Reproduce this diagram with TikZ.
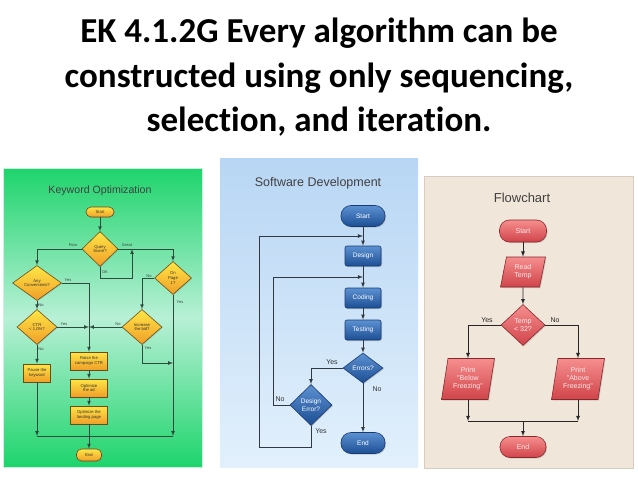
\documentclass[tikz,border=0pt]{standalone}
\usepackage{fontspec}
\setmainfont{Carlito}[Ligatures=NoCommon]
\newfontfamily\panelfont{Liberation Sans}
\usetikzlibrary{arrows}
\usetikzlibrary{shapes.geometric, shadows}
\definecolor{kwgreen}{RGB}{30,212,108}
\definecolor{kwpale}{RGB}{184,240,214}
\definecolor{kwline}{RGB}{45,75,60}
\definecolor{kwyellow}{RGB}{255,230,70}
\definecolor{kworange}{RGB}{240,158,40}
\definecolor{kwedge}{RGB}{105,78,25}
\definecolor{sdtop}{RGB}{184,214,244}
\definecolor{sdbot}{RGB}{226,240,252}
\definecolor{sdlight}{RGB}{92,145,210}
\definecolor{sddark}{RGB}{28,78,148}
\definecolor{sdedge}{RGB}{25,58,110}
\definecolor{sdline}{RGB}{50,56,66}
\definecolor{fcbg}{RGB}{240,230,218}
\definecolor{fcedge}{RGB}{214,204,194}
\definecolor{fclight}{RGB}{246,142,142}
\definecolor{fcdark}{RGB}{208,68,74}
\definecolor{fcborder}{RGB}{135,40,45}

\tikzset{
 titletext/.style={font=\bfseries\fontsize{35}{45}\selectfont, inner sep=0pt},
 paneltitle/.style={font=\panelfont\fontsize{#1}{#1}\selectfont, text=black!75, inner sep=0pt},
 %keyword optimization
 kwshape/.style={draw=kwedge, line width=0.6pt, top color=kwyellow, bottom color=kworange,
  font=\panelfont\fontsize{4.2}{4.7}\selectfont, text=black!80, align=center, inner sep=0pt,
  drop shadow={opacity=0.3, shadow xshift=0.8pt, shadow yshift=-0.8pt}},
 kwbox/.style={kwshape, rectangle, minimum width=37pt, minimum height=18pt},
 kwdia/.style={kwshape, diamond, minimum height=35pt},
 kwpill/.style={kwshape, rectangle, rounded corners=5pt},
 kwflow/.style={draw=kwline, line width=0.7pt, -latex},
 kwplain/.style={draw=kwline, line width=0.7pt},
 kwlabel/.style={font=\panelfont\fontsize{4}{4}\selectfont, text=black!75, inner sep=0pt},
 %software development
 sdshape/.style={draw=sdedge, line width=0.6pt, top color=sdlight, bottom color=sddark,
  font=\panelfont\fontsize{6.5}{7.5}\selectfont, text=white, align=center, inner sep=0pt,
  drop shadow={opacity=0.35, shadow xshift=1pt, shadow yshift=-1pt}},
 sdbox/.style={sdshape, rectangle, rounded corners=2pt, minimum width=36pt, minimum height=20pt},
 sdpill/.style={sdshape, rectangle, rounded corners=10pt, minimum width=44pt, minimum height=21pt},
 sddia/.style={sdshape, diamond},
 sdflow/.style={draw=sdline, line width=0.8pt, -latex},
 sdlabel/.style={font=\panelfont\fontsize{7}{7}\selectfont, text=black!80, inner sep=0pt},
 %flowchart
 fcshape/.style={draw=fcborder, line width=0.6pt, top color=fclight, bottom color=fcdark,
  font=\panelfont\fontsize{7}{8}\selectfont, text=white!92!red, align=center, inner sep=0pt,
  drop shadow={opacity=0.3, shadow xshift=1pt, shadow yshift=-1pt}},
 fcpill/.style={fcshape, rectangle, rounded corners=10pt, minimum width=47pt, minimum height=22pt},
 fcdata/.style={fcshape, trapezium, trapezium left angle=78, trapezium right angle=102, trapezium stretches=true},
 fcdia/.style={fcshape, diamond},
 fcflow/.style={draw=black!85, line width=0.8pt, -latex},
 fcplain/.style={draw=black!85, line width=0.8pt},
 fclabel/.style={font=\panelfont\fontsize{7}{7}\selectfont, text=black!85, inner sep=0pt},
}

\begin{document}
\begin{tikzpicture}[x=1pt,y=-1pt]
\useasboundingbox[fill=white] (0,0) rectangle (638,479);

%title
\node[titletext,anchor=base] (title1) at (319,42) {EK 4.1.2G Every algorithm can be};
\node[titletext,anchor=base] (title2) at (319,87) {constructed using only sequencing,};
\node[titletext,anchor=base] (title3) at (319,131) {selection, and iteration.};

%keyword optimization panel
\path[top color=kwgreen, bottom color=kwgreen, middle color=kwpale, draw=white!75!kwgreen, line width=1pt] (3,168) rectangle (202,467);
\node[paneltitle=10.6] (kwTitle) at (100,191) {Keyword Optimization};

\node[kwpill, minimum width=28pt, minimum height=10pt] (kwStart) at (100,212) {Start};
\node[kwdia, minimum width=36pt] (kwQuery) at (100,249) {Query\\Score?};
\node[kwdia, minimum width=49pt] (kwConv) at (37,283) {Any\\Conversions?};
\node[kwdia, minimum width=37pt, minimum height=33pt] (kwPage) at (173,278) {On\\Page\\1?};
\node[kwdia, minimum width=40pt] (kwCtr) at (37,327) {CTR\\< 1.0\%?};
\node[kwdia, minimum width=40pt] (kwBid) at (142,327) {Increase\\the bid?};
\node[kwbox, minimum width=27pt] (kwPause) at (37,373) {Pause the\\keyword};
\node[kwbox] (kwRaise) at (89,361) {Raise the\\campaign CTR};
\node[kwbox] (kwAd) at (89,388) {Optimize\\the ad};
\node[kwbox] (kwLand) at (89,415) {Optimize the\\landing page};
\node[kwpill, minimum width=25pt, minimum height=12pt] (kwEnd) at (89,455) {End};

\coordinate (kwOk) at (132,278);
\coordinate (kwTurn) at (142,363);
\coordinate (kwJoin) at (89,436);

\draw[kwflow] (kwStart) -- (kwQuery);
\draw[kwflow] (kwQuery.west) -| (kwConv.north);
\draw[kwflow] (kwQuery.east) -| (kwPage.north);
\draw[kwflow] (kwQuery.south) |- (kwOk) -- (kwOk |- kwQuery.east);
\draw[kwflow] (kwConv.east) -| (kwRaise.north);
\draw[kwflow] (kwConv) -- (kwCtr);
\draw[kwflow] (kwCtr.east) -- (kwCtr.east -| kwRaise);
\draw[kwflow] (kwBid.west) -- (kwBid.west -| kwRaise);
\draw[kwflow] (kwPage.west) -| (kwBid.north);
\draw[kwflow] (kwBid.south) -- (kwTurn) -- (kwTurn -| kwPage);
\draw[kwflow] (kwCtr) -- (kwPause);
\draw[kwflow] (kwRaise) -- (kwAd);
\draw[kwflow] (kwAd) -- (kwLand);
\draw[kwflow] (kwPause.south) -- (kwPause |- kwJoin);
\draw[kwflow] (kwPage.south) -- (kwPage |- kwJoin);
\draw[kwplain] (kwPause |- kwJoin) -- (kwPage |- kwJoin);
\draw[kwflow] (kwLand) -- (kwEnd);

\node[kwlabel] (kwPoor) at (73,245) {Poor};
\node[kwlabel] (kwGreat) at (127,245) {Great};
\node[kwlabel] (kwOkText) at (105,272) {OK};
\node[kwlabel] (kwConvYes) at (68,280) {Yes};
\node[kwlabel] (kwConvNo) at (41,305) {No};
\node[kwlabel] (kwCtrYes) at (64,324) {Yes};
\node[kwlabel] (kwCtrNo) at (41,349) {No};
\node[kwlabel] (kwPageNo) at (149,276) {No};
\node[kwlabel] (kwPageYes) at (180,302) {Yes};
\node[kwlabel] (kwBidNo) at (118,324) {No};
\node[kwlabel] (kwBidYes) at (148,348) {Yes};

%software development panel
\path[top color=sdtop, bottom color=sdbot] (220,158) rectangle (418,467);
\node[paneltitle=12.5] (sdTitle) at (318,183) {Software Development};

\node[sdpill] (sdStart) at (363,216) {Start};
\node[sdbox] (sdDesign) at (363,256) {Design};
\node[sdbox] (sdCoding) at (363,298) {Coding};
\node[sdbox] (sdTest) at (363,330) {Testing};
\node[sddia, minimum width=40pt, minimum height=30pt] (sdErr) at (363,368) {Errors?};
\node[sddia, minimum width=42pt, minimum height=41pt] (sdDes) at (311,405) {Design\\Error?};
\node[sdpill] (sdEnd) at (363,443) {End};

\coordinate (sdInA) at (363,236);
\coordinate (sdInB) at (363,277);
\coordinate (sdLoopA) at (259,447);
\coordinate (sdLoopB) at (273,277);

\draw[sdflow] (sdStart) -- (sdDesign);
\draw[sdflow] (sdDesign) -- (sdCoding);
\draw[sdflow] (sdCoding) -- (sdTest);
\draw[sdflow] (sdTest) -- (sdErr);
\draw[sdflow] (sdErr) -- (sdEnd);
\draw[sdflow] (sdErr.west) -| (sdDes.north);
\draw[sdflow] (sdDes.west) -| (sdLoopB) -- (sdInB);
\draw[sdflow] (sdDes.south) |- (sdLoopA) |- (sdInA);

\node[sdlabel] (sdErrYes) at (332,362) {Yes};
\node[sdlabel] (sdErrNo) at (377,389) {No};
\node[sdlabel] (sdDesNo) at (280,399) {No};
\node[sdlabel] (sdDesYes) at (321,431) {Yes};

%flowchart panel
\path[fill=fcbg, draw=fcedge, line width=1pt] (424,176) rectangle (633,468);
\node[paneltitle=13] (fcTitle) at (522,198) {Flowchart};

\node[fcpill] (fcStart) at (523,231) {Start};
\node[fcdata, minimum width=45pt, minimum height=30pt] (fcRead) at (523,272) {Read\\Temp};
\node[fcdia, minimum width=44pt, minimum height=41pt] (fcTemp) at (523,325) {Temp\\< 32?};
\node[fcdata, minimum width=53pt, minimum height=41pt] (fcBelow) at (468,379) {Print\\"Below\\Freezing"};
\node[fcdata, minimum width=53pt, minimum height=41pt] (fcAbove) at (578,379) {Print\\"Above\\Freezing"};
\node[fcpill, minimum width=46pt, minimum height=21pt] (fcEnd) at (523,447) {End};

\coordinate (fcJoin) at (523,421);

\draw[fcflow] (fcStart) -- (fcRead);
\draw[fcflow] (fcRead) -- (fcTemp);
\draw[fcflow] (fcTemp.west) -| (fcBelow.north);
\draw[fcflow] (fcTemp.east) -| (fcAbove.north);
\draw[fcflow] (fcBelow.south) -- (fcBelow.south |- fcJoin);
\draw[fcflow] (fcAbove.south) -- (fcAbove.south |- fcJoin);
\draw[fcplain] (fcBelow.south |- fcJoin) -- (fcAbove.south |- fcJoin);
\draw[fcflow] (fcJoin) -- (fcEnd);

\node[fclabel] (fcYes) at (487,320) {Yes};
\node[fclabel] (fcNo) at (555,320) {No};

\end{tikzpicture}
\end{document}
